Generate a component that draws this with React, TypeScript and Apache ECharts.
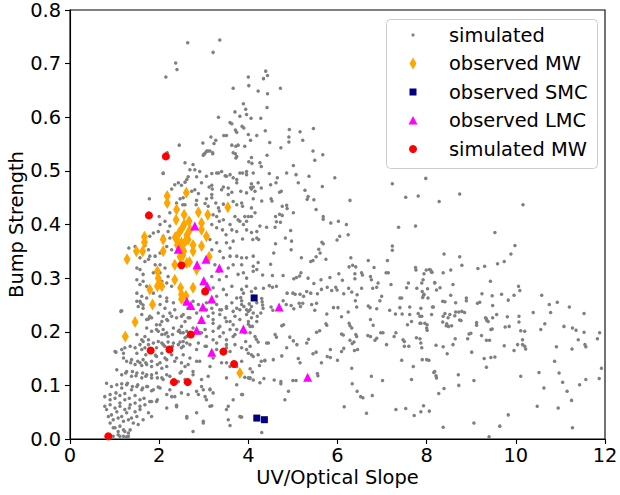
import React, { useEffect, useRef } from "react";
import * as echarts from "echarts";

type P = [number, number];

const xTickLabels = ["0", "2", "4", "6", "8", "10", "12"];
const yTickLabels = ["0.0", "0.1", "0.2", "0.3", "0.4", "0.5", "0.6", "0.7", "0.8"];

const seriesNames = ["simulated", "observed MW", "observed SMC", "observed LMC", "simulated MW"];
const seriesColors = ["#808080", "#FFA500", "#000080", "#FF00FF", "#FF0000"];

const simulated: P[] = [
  [2.64,0.739],[3.36,0.744],[3.21,0.721],[2.37,0.701],[2.40,0.689],[2.15,0.675],[4.0,0.675],[3.66,0.654],[4.01,0.659],[4.22,0.649],[3.89,0.625],[3.33,0.60],[3.70,0.61],[3.94,0.615],[3.96,0.605],[3.81,0.602],[4.06,0.598],[3.59,0.59],[3.63,0.588],[3.71,0.576],[3.74,0.572],[3.86,0.583],[3.90,0.580],[3.51,0.566],[4.0,0.568],[4.19,0.566],[4.05,0.557],[2.45,0.548],[2.98,0.552],[3.16,0.563],[3.27,0.557],[3.23,0.551],[3.45,0.566],[3.63,0.548],[3.72,0.546],[3.77,0.548],[3.92,0.546],[3.07,0.537],[3.10,0.537],[3.0,0.531],[3.02,0.532],[3.2,0.532],[3.71,0.532],[3.74,0.527],[4.07,0.525],[2.18,0.534],
  [4.39,0.686],[4.43,0.678],[4.34,0.672],[4.72,0.654],[4.43,0.644],[4.42,0.618],[4.28,0.598],[4.38,0.575],[4.92,0.577],[5.16,0.573],[5.46,0.579],[4.91,0.563],[4.91,0.554],[4.48,0.553],[5.22,0.557],[4.73,0.543],[5.45,0.537],[5.67,0.530],[4.42,0.529],[4.29,0.508],[5.01,0.510],[5.49,0.520],[4.47,0.495],[4.65,0.487],[4.86,0.496],[5.07,0.493],[5.36,0.49],[5.94,0.487],[7.98,0.486],
  [7.23,0.476],[4.62,0.478],[4.5,0.474],[4.29,0.468],[5.12,0.478],[5.66,0.471],[4.70,0.46],[4.74,0.462],[5.27,0.464],[4.51,0.448],[4.53,0.444],[4.30,0.444],[5.34,0.452],[5.32,0.447],[5.47,0.446],[6.28,0.445],[7.53,0.451],[7.81,0.453],[4.76,0.434],[4.86,0.436],[4.87,0.430],[5.52,0.428],[4.70,0.419],[4.76,0.417],[5.01,0.422],[5.68,0.415],[5.68,0.410],[4.61,0.415],[4.63,0.405],[4.72,0.404],[5.85,0.403],[6.02,0.406],[6.2,0.40],[4.41,0.395],[4.60,0.395],[4.95,0.389],[7.37,0.395],[7.75,0.397],[8.28,0.443],[4.23,0.372],[4.83,0.375],[4.97,0.369],[4.61,0.364],[5.65,0.367],[5.68,0.364],[6.05,0.378],[6.24,0.381],[5.99,0.371],[7.23,0.360],[7.23,0.352],[5.58,0.354],[5.61,0.347],[4.96,0.353],[4.57,0.347],[5.52,0.34],[5.19,0.338],[5.74,0.335],[6.30,0.338],[6.69,0.333],[7.12,0.333],[4.22,0.329],[4.5,0.326],[5.40,0.331],[5.45,0.333],[6.26,0.321],[6.34,0.324],[6.41,0.321],[6.54,0.310],[6.56,0.306],[6.82,0.32],[7.75,0.320],[7.76,0.315],[7.99,0.315],[8.09,0.315],[8.12,0.311],[4.11,0.313],[4.32,0.306],[4.54,0.305],[4.78,0.305],[5.02,0.299],[5.08,0.301],[5.18,0.310],[5.15,0.304],[5.34,0.30],[5.47,0.29],[5.63,0.297],[5.83,0.301],[6.03,0.308],[6.11,0.296],[6.39,0.308],[6.39,0.299],[6.74,0.303],[6.76,0.297],[7.09,0.310],[7.14,0.310],[7.59,0.291],[7.92,0.297],[8.18,0.291],[4.16,0.281],[4.34,0.281],[4.47,0.286],[4.54,0.283],[4.63,0.285],[4.87,0.272],[5.0,0.272],[5.05,0.270],[5.16,0.270],[5.24,0.266],[5.31,0.275],[5.40,0.272],[5.55,0.271],[5.64,0.279],[5.77,0.283],[5.87,0.277],[5.96,0.283],[5.99,0.278],[6.14,0.271],[6.25,0.281],[6.32,0.274],[6.44,0.269],[6.54,0.281],[6.79,0.281],[6.88,0.283],[6.91,0.291],[6.99,0.266],[7.2,0.288],[7.40,0.263],[7.44,0.263],[7.55,0.282],[7.78,0.281],[7.90,0.275],[7.94,0.270],[8.13,0.246],[8.3,0.282],[4.30,0.262],[4.31,0.256],[4.32,0.250],[4.28,0.235],[4.33,0.244],[4.51,0.246],[4.55,0.240],[4.78,0.258],[4.85,0.251],[4.96,0.249],[5.02,0.243],[5.14,0.253],[5.17,0.247],[5.22,0.253],[5.42,0.251],[5.53,0.253],[5.49,0.240],[5.76,0.233],[5.91,0.245],[6.01,0.245],[6.09,0.228],[6.24,0.237],[6.40,0.258],[6.43,0.246],[6.69,0.248],[6.73,0.245],[6.88,0.243],[6.95,0.258],[7.17,0.240],[7.3,0.233],[7.40,0.245],[7.45,0.233],[7.62,0.246],[7.62,0.232],[7.81,0.234],[7.89,0.229],[8.11,0.232],
  [3.90,0.247],[4.0,0.238],[4.11,0.235],[4.2,0.229],[4.02,0.252],[3.83,0.264],[3.85,0.258],
  [3.92,0.198],[4.09,0.21],[4.0,0.214],[3.94,0.182],[4.22,0.181],[4.18,0.186],[4.41,0.179],[4.45,0.179],[4.6,0.195],[4.63,0.19],[4.75,0.211],[4.79,0.213],[5.01,0.183],[4.93,0.19],[5.09,0.176],[4.86,0.17],[4.0,0.16],[4.11,0.154],[4.22,0.157],[4.37,0.146],[4.29,0.145],[4.56,0.148],[4.75,0.155],[5.12,0.15],[5.16,0.142],[5.31,0.179],[5.35,0.186],[5.53,0.199],[5.6,0.202],[5.45,0.159],[5.52,0.162],[5.74,0.215],[5.76,0.212],[5.84,0.167],[6.0,0.147],[6.09,0.163],[6.14,0.169],[6.09,0.196],[6.13,0.194],[6.28,0.211],[6.26,0.216],[6.32,0.207],[6.28,0.184],[6.33,0.178],[6.37,0.181],[6.41,0.195],[6.43,0.191],[6.38,0.165],[6.45,0.167],[6.68,0.193],[6.74,0.191],[6.74,0.223],[6.8,0.212],[6.84,0.184],[6.88,0.188],[6.97,0.198],[7.02,0.198],[7.1,0.176],[7.27,0.191],[7.31,0.198],[7.47,0.185],[7.5,0.182],[7.57,0.213],[7.66,0.219],[7.85,0.216],[7.77,0.189],[7.85,0.187],[7.96,0.216],[8.0,0.207],[7.5,0.173],[7.6,0.173],[7.9,0.148],[8.0,0.148],[7.44,0.147],[7.70,0.135],[8.18,0.126],[8.22,0.114],[7.66,0.111],[7.01,0.109],[6.76,0.117],[6.32,0.132],[6.33,0.103],[6.44,0.089],[6.52,0.079],[6.57,0.077],[6.78,0.081],[6.15,0.06],[6.65,0.048],[7.31,0.055],[7.53,0.057],[7.72,0.044],[7.87,0.051],[7.93,0.062],[8.06,0.052],[5.0,0.109],[5.07,0.109],[5.55,0.122],[5.56,0.118],[5.64,0.142],[5.77,0.154],[5.84,0.152],[4.9,0.089],[4.82,0.073],[4.73,0.103],[4.58,0.110],[4.73,0.107],[4.35,0.113],[4.26,0.105],[4.11,0.110],[4.03,0.113],[3.92,0.115],[3.87,0.083],[3.83,0.041],[4.30,0.012],[4.04,0.131],[4.09,0.125],[4.25,0.137],[4.37,0.147],
  [8.74,0.457],[10.16,0.437],[9.53,0.385],[9.98,0.361],[9.89,0.345],[8.39,0.345],[8.74,0.34],[8.79,0.324],[9.74,0.331],[9.59,0.327],[9.30,0.322],[9.15,0.318],[8.06,0.316],[8.11,0.311],[7.94,0.308],[8.37,0.31],[8.54,0.315],[7.89,0.291],[8.18,0.292],[8.02,0.280],[8.22,0.278],[8.59,0.288],[9.43,0.294],[10.06,0.285],[10.09,0.277],[7.93,0.268],[8.03,0.263],[8.54,0.268],[8.89,0.263],[9.24,0.271],[9.47,0.267],[9.68,0.27],[9.96,0.268],[10.58,0.268],
  [7.91,0.264],[8.36,0.257],[8.41,0.256],[8.65,0.254],[8.89,0.258],[9.48,0.249],[9.83,0.259],[10.75,0.251],[10.93,0.255],[11.2,0.246],[11.53,0.234],[10.39,0.236],[10.78,0.236],[10.65,0.215],[10.56,0.204],[11.08,0.21],[11.27,0.207],[11.35,0.203],[11.53,0.199],[11.88,0.198],[11.83,0.187],[11.4,0.185],[11.55,0.176],[11.57,0.172],[11.26,0.168],[10.91,0.172],[10.87,0.145],[10.97,0.123],[11.05,0.106],[11.15,0.089],[11.25,0.072],[11.43,0.101],[11.57,0.111],[11.87,0.113],[11.92,0.132],[10.52,0.124],[10.63,0.095],[10.48,0.061],[10.95,0.058],[11.27,0.021],[10.11,0.117],[9.83,0.045],[9.64,0.024],[9.40,0.004],[9.06,0.03],[8.37,0.022],[8.21,0.118],[8.16,0.124],[8.39,0.094],[8.27,0.085],[8.72,0.10],[8.71,0.12],[9.06,0.109],[9.34,0.134],[9.29,0.15],[9.44,0.152],[9.53,0.153],[9.01,0.162],[8.46,0.159],[8.21,0.175],[8.05,0.147],[9.74,0.174],[9.96,0.165],[10.04,0.176],[10.15,0.176],[10.22,0.168],[10.20,0.173],[10.15,0.185],[10.07,0.218],[10.07,0.229],[10.11,0.202],[10.20,0.201],[9.34,0.184],[9.41,0.184],[9.23,0.193],[8.92,0.187],[8.99,0.197],[8.95,0.196],[9.44,0.204],[9.47,0.205],[9.76,0.209],[9.85,0.21],[9.57,0.232],[9.48,0.226],[9.35,0.221],[9.38,0.219],[9.12,0.217],[9.12,0.212],[9.32,0.226],[9.34,0.224],[8.56,0.211],[8.49,0.210],[8.44,0.211],[8.64,0.187],[8.59,0.176],[8.77,0.221],[8.74,0.222],[8.65,0.237],[8.72,0.237],[8.79,0.238],[8.85,0.236],[8.52,0.232],[8.48,0.226],[8.41,0.234],[8.37,0.229],[8.36,0.218],[8.45,0.215],[8.63,0.23],[7.85,0.229],[7.87,0.216],[8.01,0.213],[8.01,0.203],[7.87,0.179],[7.89,0.170],[8.37,0.172],[8.15,0.246],[7.87,0.244],[9.81,0.228],[9.19,0.255],[9.14,0.253],
  [3.05,0.535],[3.14,0.537],[3.2,0.534],[2.99,0.529],[3.66,0.534],[3.72,0.524],[4.01,0.517],[4.08,0.514],[4.26,0.515],[2.58,0.515],[2.76,0.512],[2.80,0.502],[2.09,0.495],[2.65,0.489],[2.62,0.484],[2.58,0.479],[2.84,0.489],[3.06,0.49],[3.18,0.495],[3.29,0.496],[2.95,0.478],[2.35,0.474],[2.43,0.478],[2.50,0.473],[3.40,0.499],[3.48,0.491],[3.18,0.473],[3.19,0.466],[3.66,0.487],[3.74,0.484],[3.74,0.478],[3.87,0.496],[3.96,0.499],[4.11,0.496],[4.07,0.476],[4.05,0.469],[4.22,0.478],[2.28,0.466],[2.73,0.462],[2.80,0.465],[2.88,0.458],[3.12,0.47],[3.44,0.47],[3.40,0.465],[3.55,0.456],[3.63,0.46],[3.55,0.468],[3.83,0.462],[3.96,0.459],[4.11,0.47],[4.15,0.462],[4.07,0.466],[1.78,0.448],[2.47,0.448],[2.54,0.45],[2.58,0.437],[2.53,0.437],[2.39,0.44],[2.84,0.445],[2.83,0.437],[3.03,0.439],[3.1,0.434],[3.06,0.448],[3.18,0.45],[3.18,0.456],[3.27,0.44],[3.44,0.438],[3.33,0.431],[3.35,0.425],[3.66,0.443],[3.74,0.437],[3.85,0.44],[3.87,0.434],[4.07,0.431],[4.15,0.422],[4.11,0.448],[2.0,0.415],[2.24,0.422],[3.21,0.418],[3.29,0.415],[3.35,0.406],[3.44,0.409],[3.59,0.40],[3.70,0.415],[3.77,0.409],[3.81,0.406],[3.92,0.415],[4.0,0.415],[3.96,0.406],[4.07,0.415],[2.13,0.406],[2.02,0.40],[2.24,0.397],[2.20,0.387],[1.98,0.387],[1.87,0.384],[1.79,0.378],[2.09,0.378],[2.24,0.375],[3.18,0.40],[3.29,0.394],[3.42,0.39],[3.50,0.381],[3.63,0.39],[3.74,0.387],[3.89,0.40],[3.96,0.39],[4.07,0.385],[4.19,0.387],[4.26,0.397],[3.87,0.373],[4.10,0.372],[4.19,0.375],[3.14,0.372],[3.29,0.366],[3.51,0.366],[3.66,0.369],[3.59,0.356],[1.32,0.356],[1.46,0.359],[1.68,0.361],[2.02,0.347],[2.17,0.359],[2.28,0.353],[1.76,0.353],[1.79,0.341],[1.91,0.341],[1.57,0.338],[1.68,0.331],[1.76,0.335],[1.91,0.325],[2.02,0.325],[2.13,0.319],[1.50,0.319],[1.57,0.316],[1.64,0.307],[1.87,0.31],[2.02,0.31],[2.20,0.303],[3.18,0.353],[3.36,0.35],[3.44,0.338],[3.59,0.341],[3.74,0.341],[3.85,0.338],[3.96,0.338],[4.11,0.341],[3.25,0.325],[3.33,0.313],[3.55,0.319],[3.66,0.325],[3.85,0.325],[4.11,0.322],[4.19,0.316],[3.18,0.303],[3.35,0.297],[3.51,0.303],[3.77,0.307],[3.89,0.31],[3.96,0.30],[1.50,0.297],[1.57,0.288],[1.64,0.294],[1.72,0.285],[2.06,0.294],[2.17,0.291],[2.28,0.285],[3.21,0.282],[3.44,0.279],[3.63,0.285],[3.85,0.279],[3.96,0.285],[4.07,0.275],[1.50,0.272],[1.61,0.266],[1.72,0.263],[1.87,0.272],[2.02,0.266],[2.17,0.263],[3.29,0.266],[3.51,0.269],[3.74,0.263],[3.89,0.272],[4.11,0.266],
  [2.09,0.496],[2.69,0.502],[2.91,0.499],[3.33,0.496],[3.51,0.49],[3.59,0.493],[3.81,0.496],[3.96,0.493],
  [1.14,0.238],[1.57,0.257],[1.53,0.247],[1.64,0.244],[2.02,0.251],[2.13,0.244],[2.17,0.257],[2.32,0.254],[2.35,0.241],[1.98,0.235],[2.09,0.229],[2.17,0.223],[1.61,0.232],[1.72,0.223],[1.79,0.229],[2.39,0.226],[2.5,0.229],[2.58,0.219],[2.65,0.226],[3.06,0.241],[3.21,0.235],[3.36,0.241],[3.51,0.244],[3.66,0.238],[3.81,0.241],[4.04,0.241],[3.21,0.216],[3.36,0.21],[3.51,0.219],[3.66,0.213],[3.74,0.204],[4.0,0.219],[4.04,0.21],[1.72,0.207],[1.83,0.201],[1.94,0.204],[2.02,0.213],[2.09,0.204],[2.17,0.198],[2.32,0.207],[2.43,0.201],[2.54,0.198],[2.62,0.191],[2.95,0.198],[3.06,0.191],[3.21,0.185],[3.36,0.191],[3.51,0.185],[3.66,0.191],[1.50,0.195],[1.61,0.185],[1.68,0.191],[1.01,0.163],[1.16,0.167],[1.35,0.173],[1.46,0.17],[1.57,0.176],[1.68,0.17],[1.76,0.176],[1.94,0.17],[2.06,0.179],[2.13,0.173],[2.32,0.179],[2.43,0.176],[2.50,0.17],[2.62,0.179],[2.84,0.167],[3.03,0.173],[3.29,0.167],[3.51,0.176],[3.59,0.163],[3.85,0.17],[4.04,0.173],[1.20,0.151],[1.27,0.145],[1.38,0.148],[1.46,0.139],[1.57,0.142],[1.64,0.148],[1.72,0.139],[1.83,0.145],[1.94,0.154],[2.02,0.142],[2.17,0.148],[2.35,0.145],[2.50,0.142],[2.65,0.139],[2.91,0.145],[3.14,0.135],[3.51,0.142],[3.74,0.135],[4.04,0.114],[1.05,0.129],[1.16,0.12],[1.27,0.126],[1.38,0.117],[1.50,0.123],[1.61,0.114],[1.72,0.12],[1.83,0.114],[1.94,0.123],[2.06,0.114],[2.17,0.12],[2.47,0.123],[2.76,0.12],[2.95,0.111],[0.82,0.104],[0.93,0.098],[1.05,0.101],[1.16,0.095],[1.27,0.101],[1.38,0.092],[1.50,0.098],[1.61,0.092],[1.72,0.098],[1.87,0.092],[2.02,0.095],[2.24,0.092],[2.35,0.079],[2.50,0.086],[2.84,0.089],[3.14,0.092],[0.78,0.079],[0.90,0.073],[1.01,0.076],[1.12,0.067],[1.23,0.073],[1.35,0.064],[1.46,0.067],[1.57,0.061],[1.68,0.064],[1.79,0.07],[1.94,0.07],[2.39,0.06],[2.62,0.042],[2.99,0.033],[3.18,0.062],[3.51,0.055],[3.81,0.042],[0.82,0.055],[0.93,0.045],[1.05,0.051],[1.16,0.042],[1.27,0.049],[1.38,0.039],[1.50,0.042],[1.64,0.036],[0.90,0.03],[1.01,0.021],[1.12,0.024],[1.23,0.014],[1.35,0.017],[1.20,0.005],[1.31,0.005],[0.97,0.005],[1.08,0.008],
  [1.16,0.239],[1.50,0.257],[1.64,0.250],[1.59,0.253],[1.83,0.226],[1.76,0.224],[1.94,0.213],[2.06,0.219],[2.19,0.221],[2.28,0.229],[2.24,0.235],[1.98,0.201],[2.06,0.195],[2.13,0.196],[2.20,0.191],[2.30,0.195],[2.45,0.203],[2.48,0.198],[2.58,0.189],[1.64,0.182],[1.76,0.185],[1.87,0.179],[1.98,0.182],[2.09,0.176],[2.2,0.181],[2.30,0.173],[2.47,0.181],[2.54,0.173],[1.50,0.16],[1.61,0.167],[1.70,0.157],[1.83,0.163],[1.92,0.156],[2.06,0.16],[2.13,0.151],[2.28,0.157],[2.39,0.151],[1.36,0.142],[1.52,0.145],[1.61,0.137],[1.70,0.142],[1.83,0.135],[1.96,0.139],[2.06,0.132],[2.17,0.135],[1.25,0.123],[1.40,0.126],[1.48,0.118],[1.63,0.123],[1.70,0.117],[1.83,0.12],[1.96,0.114],[2.09,0.111],[2.24,0.117],[2.43,0.107],[2.58,0.111],[1.16,0.103],[1.29,0.104],[1.40,0.098],[1.52,0.101],[1.63,0.095],[1.74,0.098],[1.83,0.090],[1.98,0.097],[2.17,0.083],[2.28,0.079],[0.90,0.083],[1.03,0.086],[1.12,0.081],[1.23,0.085],[1.33,0.076],[1.46,0.081],[1.57,0.073],[1.66,0.076],[1.83,0.07],[1.96,0.073],[0.78,0.061],[0.90,0.064],[1.01,0.058],[1.12,0.061],[1.23,0.055],[1.33,0.058],[1.46,0.051],[1.57,0.055],[1.76,0.049],[2.17,0.058],[2.39,0.063],[0.86,0.042],[0.97,0.036],[1.08,0.039],[1.20,0.033],[1.31,0.036],[1.42,0.030],[1.53,0.027],[1.83,0.042],[0.97,0.021],[1.08,0.014],[1.20,0.017],[1.31,0.011],[1.12,0.005],[1.27,0.004],[1.03,0.162],[1.2,0.16],[1.23,0.17],
  [2.58,0.254],[2.65,0.244],[2.76,0.257],[2.88,0.251],[3.06,0.254],[3.18,0.244],[3.29,0.251],[3.40,0.241],[3.51,0.247],[3.63,0.254],[3.74,0.244],[3.85,0.251],[3.96,0.241],[4.07,0.247],[4.19,0.254],[2.54,0.232],[2.69,0.226],[2.84,0.235],[3.10,0.229],[3.21,0.223],[3.36,0.232],[3.48,0.226],[3.59,0.219],[3.70,0.229],[3.81,0.223],[3.96,0.232],[4.07,0.226],[4.19,0.219],[2.5,0.21],[2.62,0.201],[2.76,0.207],[2.91,0.198],[3.03,0.204],[3.21,0.201],[3.33,0.207],[3.44,0.198],[3.59,0.204],[3.70,0.195],[3.85,0.201],[4.04,0.198],[4.15,0.191],[2.54,0.182],[2.69,0.176],[2.88,0.179],[3.06,0.173],[3.29,0.179],[3.51,0.17],[3.70,0.176],[3.96,0.167],[4.07,0.157],[2.54,0.157],[2.69,0.151],[2.84,0.145],[3.21,0.151],[3.40,0.142],[3.59,0.135],[3.85,0.145],[2.5,0.126],[2.58,0.135],[2.76,0.126],[3.10,0.117],[2.95,0.098],[2.99,0.092],[3.14,0.093],[2.88,0.083],[3.03,0.079],[3.21,0.086],[3.51,0.114],[3.74,0.101],[4.0,0.114],[2.65,0.083],[3.06,0.073],[3.66,0.073],[3.85,0.083],[3.14,0.061],[3.55,0.061],[2.62,0.039],[2.84,0.049],[2.99,0.03],[3.55,0.036],[3.59,0.025],[3.85,0.041],[2.76,0.014]
];

const observedMW: P[] = [
  [2.18,0.453],[2.18,0.440],[2.61,0.459],[2.39,0.428],[2.38,0.409],[2.56,0.418],[2.56,0.400],[2.88,0.423],[3.09,0.418],[3.54,0.432],[2.67,0.406],[2.95,0.403],[2.95,0.390],
  [2.39,0.372],[2.45,0.385],[2.52,0.394],[2.62,0.380],[2.50,0.366],[2.58,0.368],[2.65,0.372],[2.41,0.362],[2.48,0.356],[2.55,0.350],[2.69,0.390],[2.36,0.376],
  [2.09,0.372],[1.67,0.377],[1.67,0.367],[1.49,0.350],[1.63,0.350],[1.28,0.335],[2.09,0.350],[2.35,0.325],[2.47,0.340],[2.53,0.342],[2.76,0.362],[2.76,0.350],[2.95,0.360],[3.06,0.378],[3.12,0.340],[2.62,0.328],[2.68,0.330],[2.84,0.316],[1.96,0.313],[1.98,0.300],[2.00,0.290],[1.96,0.285],[2.35,0.297],[1.79,0.279],[2.06,0.285],[2.48,0.282],[2.76,0.282],[2.50,0.270],[2.60,0.267],[2.50,0.261],[1.85,0.251],[1.46,0.218],[1.24,0.191],[3.81,0.123]
];

const observedSMC: P[] = [[4.13,0.263],[4.19,0.039],[4.36,0.036]];

const observedLMC: P[] = [
  [2.80,0.397],[2.43,0.354],[2.85,0.325],[3.05,0.335],[3.35,0.319],[3.00,0.295],[3.08,0.285],[3.18,0.261],[2.62,0.257],[2.71,0.249],[2.98,0.246],[2.95,0.223],[2.84,0.203],[3.89,0.205],[3.18,0.162],[4.69,0.246],[5.33,0.115]
];

const simulatedMW: P[] = [
  [2.15,0.527],[1.77,0.417],[2.50,0.324],[3.03,0.275],[2.71,0.195],[1.81,0.165],[2.23,0.167],[2.33,0.106],[2.64,0.106],[3.44,0.163],[3.68,0.140],[0.86,0.005]
];

const FONT = "DejaVu Sans";
const FS = 19.4;

export default function App() {
  const ref = useRef<HTMLDivElement>(null);
  useEffect(() => {
    if (!ref.current) return;
    const chart = echarts.init(ref.current, undefined, { renderer: "svg" });
    const legendX = 413;
    const rows = [35, 63.5, 92, 120.5, 149];
    const legendMarkers: any[] = [
      { type: "circle", shape: { cx: legendX, cy: rows[0], r: 1.6 }, style: { fill: seriesColors[0] }, z: 101 },
      { type: "polygon", shape: { points: [[legendX, rows[1] - 6], [legendX + 3.5, rows[1]], [legendX, rows[1] + 6], [legendX - 3.5, rows[1]]] }, style: { fill: seriesColors[1] }, z: 101 },
      { type: "rect", shape: { x: legendX - 3.5, y: rows[2] - 3.5, width: 7, height: 7 }, style: { fill: seriesColors[2] }, z: 101 },
      { type: "polygon", shape: { points: [[legendX, rows[3] - 4.5], [legendX + 4.5, rows[3] + 4], [legendX - 4.5, rows[3] + 4]] }, style: { fill: seriesColors[3] }, z: 101 },
      { type: "circle", shape: { cx: legendX, cy: rows[4], r: 4 }, style: { fill: seriesColors[4] }, z: 101 },
    ];
    const legendTexts = seriesNames.map((n, i) => ({
      type: "text",
      x: 449,
      y: rows[i],
      style: { text: n, fill: "#000", font: `${FS}px '${FONT}'`, textVerticalAlign: "middle", textAlign: "left" },
      z: 101,
    }));
    const mk = (name: string, data: P[], symbol: string, size: any, color: string, z: number) => ({
      name,
      type: "scatter",
      data,
      symbol,
      symbolSize: size,
      itemStyle: { color, opacity: 1 },
      z,
      silent: true,
    });
    chart.setOption({
      animation: false,
      backgroundColor: "#fff",
      textStyle: { fontFamily: FONT },
      grid: { left: 70, right: 15, top: 10, bottom: 56, containLabel: false, outerBoundsMode: "none", show: true, borderColor: "#000", borderWidth: 1.1, backgroundColor: "transparent" },
      xAxis: {
        type: "value",
        min: 0,
        max: 12,
        interval: 2,
        name: "UV/Optical Slope",
        nameLocation: "middle",
        nameGap: 28,
        nameMoveOverlap: false,
        nameTextStyle: { fontFamily: FONT, fontSize: FS, color: "#000", lineHeight: 20 },
        axisLine: { show: true, lineStyle: { color: "#000", width: 1.1 } },
        axisTick: { show: true, inside: false, length: 5, lineStyle: { color: "#000", width: 1.1 } },
        axisLabel: { margin: 7, lineHeight: 19, fontFamily: FONT, fontSize: FS, color: "#000", formatter: (v: number) => xTickLabels[Math.round(v / 2)] ?? String(v) },
        splitLine: { show: false },
      },
      yAxis: {
        type: "value",
        min: 0,
        max: 0.8,
        interval: 0.1,
        name: "Bump Strength",
        nameLocation: "middle",
        nameGap: 44,
        nameMoveOverlap: false,
        nameTextStyle: { fontFamily: FONT, fontSize: FS, color: "#000", lineHeight: 20 },
        axisLine: { show: true, lineStyle: { color: "#000", width: 1.1 } },
        axisTick: { show: true, inside: false, length: 5, lineStyle: { color: "#000", width: 1.1 } },
        axisLabel: { margin: 9, fontFamily: FONT, fontSize: FS, color: "#000", formatter: (v: number) => yTickLabels[Math.round(v * 10)] ?? String(v) },
        splitLine: { show: false },
      },
      series: [
        mk(seriesNames[0], simulated, "circle", 3.5, seriesColors[0], 2),
        mk(seriesNames[1], observedMW, "diamond", [7, 12], seriesColors[1], 3),
        mk(seriesNames[2], observedSMC, "rect", 7, seriesColors[2], 4),
        mk(seriesNames[3], observedLMC, "triangle", 9, seriesColors[3], 5),
        mk(seriesNames[4], simulatedMW, "circle", 8, seriesColors[4], 6),
      ],
      graphic: [
        {
          type: "rect",
          shape: { x: 386.5, y: 19.5, width: 211, height: 149, r: 4 },
          style: { fill: "rgba(255,255,255,0.8)", stroke: "#cccccc", lineWidth: 1 },
          z: 100,
        },
        ...legendMarkers,
        ...legendTexts,
      ],
    });
    return () => chart.dispose();
  }, []);
  return <div ref={ref} style={{ position: "fixed", left: 0, top: 0, width: 620, height: 495 }} />;
}
